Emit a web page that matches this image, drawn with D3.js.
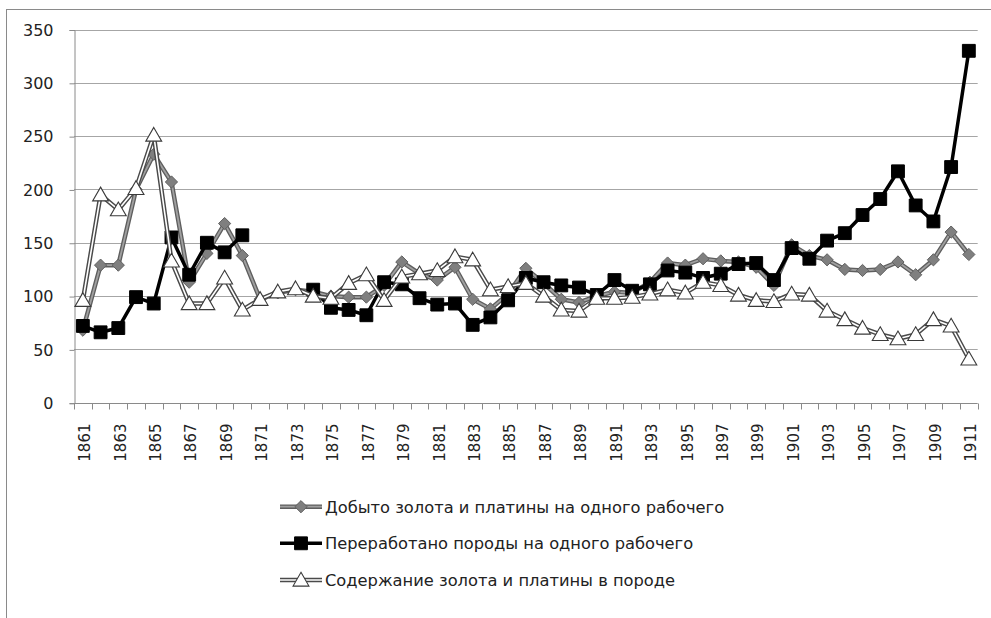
<!DOCTYPE html>
<html>
<head>
<meta charset="utf-8">
<script src="https://cdn.jsdelivr.net/npm/d3@7"></script>
<style>
    body { margin: 0; background: #fff; }
    svg text { font-family: "DejaVu Sans", sans-serif; fill: #222; }
</style>
</head>
<body>
<svg id="chart" width="991" height="618"></svg>
<script>
/***************************************************************
    Data
****************************************************************/
const years = [1861, 1862, 1863, 1864, 1865, 1866, 1867, 1868, 1869, 1870,
    1871, 1872, 1873, 1874, 1875, 1876, 1877, 1878, 1879, 1880,
    1881, 1882, 1883, 1884, 1885, 1886, 1887, 1888, 1889, 1890,
    1891, 1892, 1893, 1894, 1895, 1896, 1897, 1898, 1899, 1900,
    1901, 1902, 1903, 1904, 1905, 1906, 1907, 1908, 1909, 1910, 1911];

// добыто золота и платины на одного рабочего
const goldPerWorker = [68, 129, 129, 200, 233, 207, 113, 140, 168, 138,
    97, 103, 106, 104, 100, 99, 99, 110, 132, 121,
    115, 127, 97, 88, 102, 126, 112, 97, 94, 100,
    104, 103, 113, 131, 129, 135, 133, 132, 127, 110,
    148, 138, 134, 125, 124, 125, 132, 120, 134, 160, 139];

// переработано породы на одного рабочего (1871-1873 нет данных)
const rockPerWorker = [72, 66, 70, 99, 93, 155, 120, 150, 141, 157,
    null, null, null, 106, 89, 87, 82, 113, 111, 98,
    92, 93, 73, 80, 96, 117, 113, 110, 108, 101,
    115, 105, 111, 124, 122, 117, 121, 130, 131, 115,
    145, 135, 152, 159, 176, 191, 217, 185, 170, 221, 330];

// содержание золота и платины в породе
const goldInRock = [96, 195, 181, 201, 251, 133, 93, 93, 117, 87,
    97, 104, 107, 100, 98, 112, 120, 96, 118, 121,
    124, 137, 134, 106, 109, 112, 100, 87, 86, 98,
    98, 99, 102, 106, 103, 113, 110, 101, 96, 95,
    102, 101, 86, 78, 70, 64, 60, 64, 78, 72, 41];

const yTicks = [0, 50, 100, 150, 200, 250, 300, 350];

const seriesNames = [
    "Добыто золота и платины на одного рабочего",
    "Переработано породы на одного рабочего",
    "Содержание золота и платины в породе"
];

/***************************************************************
    Chart
****************************************************************/
const svg = d3.select("#chart");
const plot = { left: 74, right: 977.7, top: 29.5, bottom: 402.7 };

// outer chart border
svg.append("rect")
    .attr("x", 6.5).attr("y", 9.5)
    .attr("width", 1100).attr("height", 800)
    .attr("fill", "none").attr("stroke", "#8a8a8a");

const x = d3.scaleBand().domain(years).range([plot.left, plot.right]);
const y = d3.scaleLinear().domain([0, 350]).range([plot.bottom, plot.top]);
const cx = d => x(d) + x.bandwidth() / 2;

// gridlines
svg.append("g").selectAll("line").data(yTicks.filter(t => t > 0)).enter().append("line")
    .attr("x1", plot.left).attr("x2", plot.right)
    .attr("y1", d => Math.round(y(d)) + 0.5).attr("y2", d => Math.round(y(d)) + 0.5)
    .attr("stroke", "#a6a6a6").attr("stroke-width", 1);

// y axis
const yAxis = svg.append("g").attr("transform", `translate(${plot.left + 0.5},0.5)`)
    .call(d3.axisLeft(y).tickValues(yTicks).tickSize(5).tickPadding(16));
yAxis.select(".domain").attr("stroke", "#8a8a8a");
yAxis.selectAll(".tick line").attr("stroke", "#8a8a8a");
yAxis.selectAll(".tick text").attr("font-size", 16).attr("fill", "#222")
    .attr("font-family", "DejaVu Sans");

// x axis: ticks between categories, labels every other year
const xAxisG = svg.append("g").attr("transform", `translate(0,${Math.round(plot.bottom) + 0.5})`);
xAxisG.append("line").attr("x1", plot.left).attr("x2", plot.right)
    .attr("stroke", "#8a8a8a");
xAxisG.selectAll(".tk").data(years.concat(["end"])).enter().append("line")
    .attr("x1", (d, i) => Math.round(plot.left + i * x.step()) + 0.5)
    .attr("x2", (d, i) => Math.round(plot.left + i * x.step()) + 0.5)
    .attr("y1", 0).attr("y2", 6)
    .attr("stroke", "#8a8a8a");
xAxisG.selectAll("text").data(years.filter((d, i) => i % 2 === 0)).enter().append("text")
    .attr("transform", d => `translate(${cx(d) + 2},20) rotate(-90)`)
    .attr("text-anchor", "end").attr("dy", "0.35em")
    .attr("font-size", 15)
    .text(d => d);

/***************************************************************
    Series
****************************************************************/
const line = d3.line()
    .defined(d => d.v !== null)
    .x(d => cx(d.year)).y(d => y(d.v));

function toPoints(values) {
    return years.map((year, i) => ({ year: year, v: values[i] }));
}

const diamond = d3.symbol().type(d3.symbolDiamond2).size(95);
const square = d3.symbol().type(d3.symbolSquare2).size(210);
const triangle = d3.symbol().type(d3.symbolTriangle2).size(180);

function drawMarker(g, kind, px, py) {
    if (kind === "diamond") {
        g.append("path").attr("d", diamond()).attr("transform", `translate(${px},${py})`)
            .attr("fill", "#7f7f7f").attr("stroke", "#606060").attr("stroke-width", 1);
    } else if (kind === "square") {
        g.append("path").attr("d", square()).attr("transform", `translate(${px},${py})`)
            .attr("fill", "#000").attr("stroke", "#000").attr("stroke-width", 1);
    } else {
        g.append("path").attr("d", triangle()).attr("transform", `translate(${px},${py + 1.5})`)
            .attr("fill", "#fff").attr("stroke", "#3a3a3a").attr("stroke-width", 1.1);
    }
}

function drawStroke(g, d, kind) {
    if (kind === "diamond") {
        g.append("path").attr("d", d).attr("fill", "none")
            .attr("stroke", "#5e5e5e").attr("stroke-width", 4.5).attr("stroke-linejoin", "round");
        g.append("path").attr("d", d).attr("fill", "none")
            .attr("stroke", "#a0a0a0").attr("stroke-width", 1.8).attr("stroke-linejoin", "round");
    } else if (kind === "square") {
        g.append("path").attr("d", d).attr("fill", "none")
            .attr("stroke", "#000").attr("stroke-width", 3.5).attr("stroke-linejoin", "round");
    } else {
        g.append("path").attr("d", d).attr("fill", "none")
            .attr("stroke", "#4a4a4a").attr("stroke-width", 4.5).attr("stroke-linejoin", "round");
        g.append("path").attr("d", d).attr("fill", "none")
            .attr("stroke", "#fff").attr("stroke-width", 1.6).attr("stroke-linejoin", "round");
    }
}

const series = [
    { values: goldPerWorker, kind: "diamond" },
    { values: rockPerWorker, kind: "square" },
    { values: goldInRock, kind: "triangle" }
];

series.forEach(s => {
    const g = svg.append("g");
    const pts = toPoints(s.values);
    drawStroke(g, line(pts), s.kind);
    pts.filter(p => p.v !== null).forEach(p => drawMarker(g, s.kind, cx(p.year), y(p.v)));
});

/***************************************************************
    Legend
****************************************************************/
const legendRows = [506.7, 543.3, 580];
series.forEach((s, i) => {
    const g = svg.append("g");
    const ly = legendRows[i];
    drawStroke(g, `M280,${ly}H322`, s.kind);
    drawMarker(g, s.kind, 301, ly);
    g.append("text").attr("x", 325).attr("y", ly).attr("dy", "0.36em")
        .attr("font-size", 16.3)
        .text(seriesNames[i]);
});
</script>
</body>
</html>
